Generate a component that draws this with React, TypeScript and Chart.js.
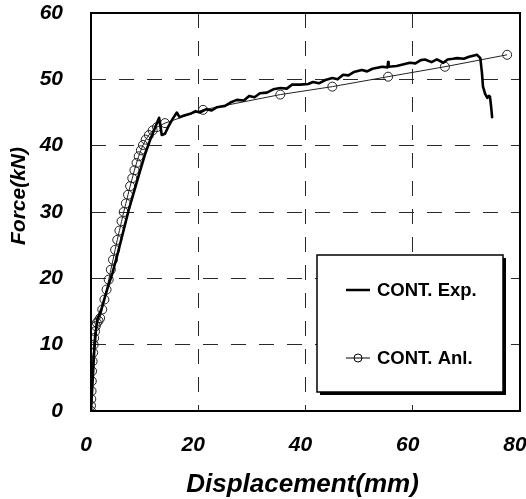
import React, { useEffect, useRef } from "react";
import { Chart, registerables } from "chart.js";

Chart.register(...registerables);

// ---- data ----
const expX = [0, 0.2, 0.4, 0.6, 0.9, 1.2, 2, 3, 4, 5, 6, 7, 8, 9, 10, 11, 12, 12.7, 13.2, 13.8, 14.5, 15.2, 16, 16.5, 17.5, 18.5, 19.5, 20.3, 21.5, 22.5, 23.5, 25, 26, 27.2, 28.5, 29.5, 30.5, 31.5, 32.8, 34, 35.3, 36.5, 37.5, 39, 40.5, 41.4, 42.5, 43.7, 45, 46, 47, 48, 49, 50.5, 51.5, 52.5, 54.3, 55.3, 55.4, 55.5, 57, 58.5, 59.5, 60.5, 61.5, 62.3, 63.5, 64.5, 65.7, 66.5, 67.5, 68.3, 69.5, 70.5, 72, 72.6, 72.9, 73.1, 73.5, 73.9, 74.2, 74.4, 74.6, 74.8];
const expY = [0, 3, 6, 9, 12, 13.8, 15.5, 18.3, 20.8, 23.8, 27, 30.2, 33, 35.8, 38.5, 40.8, 42.8, 44.2, 41.6, 41.8, 43, 44, 45, 44.3, 44.6, 44.8, 45.2, 45, 45.5, 45.3, 45.8, 46, 46.5, 46.9, 46.8, 47.5, 47.3, 47.9, 48, 48.5, 48.7, 48.6, 49.2, 49.2, 49.3, 49.6, 49.4, 49.9, 50.2, 50, 50.7, 50.6, 51.1, 51.4, 51.2, 51.6, 51.9, 51.8, 52.6, 51.9, 52, 52.3, 52.5, 52.4, 52.9, 53, 52.6, 53, 52.5, 53, 53.1, 53.2, 53.1, 53.4, 53.7, 53.2, 51, 48.9, 47.8, 47.2, 47.5, 47.4, 46, 44.3];

const anlX = [0, 0, 0.05, 0.1, 0.15, 0.2, 0.3, 0.4, 0.5, 0.6, 0.75, 0.9, 1.1, 1.4, 1.7, 2.1, 2.5, 2.9, 3.3, 3.7, 4.1, 4.5, 4.9, 5.3, 5.7, 6.1, 6.5, 6.9, 7.3, 7.7, 8.1, 8.5, 8.9, 9.3, 9.7, 10.2, 10.8, 11.5, 12.3, 13.8, 20.9, 35.3, 45, 55.4, 66, 77.6];
const anlY = [0, 0.8, 1.8, 3, 4.5, 6, 7.5, 8.8, 10, 11, 12, 12.8, 13.3, 13.6, 14, 15.3, 16.8, 18.3, 19.8, 21.3, 22.8, 24.3, 25.8, 27.2, 28.6, 30, 31.3, 32.6, 33.9, 35.1, 36.3, 37.4, 38.4, 39.3, 40.1, 40.9, 41.6, 42.3, 42.8, 43.4, 45.4, 47.7, 48.9, 50.4, 51.9, 53.7];

const seriesLabels = ["CONT. Exp.", "CONT. Anl."];
const xTickValues = [0, 20, 40, 60, 80];
const yTickValues = [0, 10, 20, 30, 40, 50, 60];
const xTitle = "Displacement(mm)";
const yTitle = "Force(kN)";

const FONT = "'Liberation Sans', Arial, Helvetica, sans-serif";

const framePlugin = {
  id: "frameAndLegend",
  afterDraw(chart: any) {
    const { ctx, chartArea } = chart;
    const { left, right, top, bottom } = chartArea;
    ctx.save();
    // plot frame
    ctx.strokeStyle = "#000";
    ctx.lineWidth = 2;
    ctx.strokeRect(left, top, right - left, bottom - top);

    // axis titles
    ctx.fillStyle = "#000";
    ctx.font = `italic bold 26px ${FONT}`;
    ctx.textAlign = "center";
    ctx.textBaseline = "alphabetic";
    ctx.fillText(xTitle, (left + right) / 2 - 3, 492);

    ctx.save();
    ctx.translate(25, 196);
    ctx.rotate(-Math.PI / 2);
    ctx.font = `italic bold 21px ${FONT}`;
    ctx.textAlign = "center";
    ctx.textBaseline = "alphabetic";
    ctx.fillText(yTitle, 0, 0);
    ctx.restore();

    // legend box
    const bx = 317, by = 255, bw = 186, bh = 137;
    ctx.fillStyle = "#000";
    ctx.fillRect(bx + 3, by + 3, bw, bh);
    ctx.fillStyle = "#fff";
    ctx.fillRect(bx, by, bw, bh);
    ctx.strokeStyle = "#000";
    ctx.lineWidth = 1.5;
    ctx.strokeRect(bx, by, bw, bh);

    const ds = chart.data.datasets;
    const rows = [290, 358];
    ctx.font = `bold 18.5px ${FONT}`;
    ctx.textAlign = "left";
    ctx.textBaseline = "middle";
    rows.forEach((ry, i) => {
      const d = ds[i];
      ctx.strokeStyle = "#000";
      ctx.lineWidth = i === 0 ? 2.5 : 1;
      ctx.beginPath();
      ctx.moveTo(346, ry);
      ctx.lineTo(370, ry);
      ctx.stroke();
      if (i === 1) {
        ctx.beginPath();
        ctx.arc(358, ry, 4, 0, Math.PI * 2);
        ctx.stroke();
      }
      ctx.fillStyle = "#000";
      ctx.fillText(d.label, 377, ry + 1);
    });
    ctx.restore();
  },
};

export default function App() {
  const ref = useRef<HTMLCanvasElement | null>(null);

  useEffect(() => {
    if (!ref.current) return;
    const tickFont = { family: FONT, size: 21, weight: "bold" as const, style: "italic" as const };
    const chart = new Chart(ref.current, {
      type: "scatter",
      data: {
        datasets: [
          {
            label: seriesLabels[0],
            data: expX.map((x, i) => ({ x, y: expY[i] })),
            showLine: true,
            borderColor: "#000",
            borderWidth: 2.6,
            borderJoinStyle: "round",
            borderCapStyle: "round",
            pointRadius: 0,
            tension: 0,
          },
          {
            label: seriesLabels[1],
            data: anlX.map((x, i) => ({ x, y: anlY[i] })),
            showLine: true,
            borderColor: "#222",
            borderWidth: 1,
            pointRadius: 4.5,
            pointBorderWidth: 1,
            pointBorderColor: "#222",
            pointBackgroundColor: "rgba(0,0,0,0)",
            tension: 0,
          },
        ],
      },
      options: {
        responsive: false,
        animation: false,
        devicePixelRatio: 1,
        layout: { padding: { left: 0, top: 13, right: 6, bottom: 0 } },
        plugins: { legend: { display: false }, tooltip: { enabled: false } },
        scales: {
          x: {
            type: "linear",
            min: 0,
            max: 80,
            afterBuildTicks: (s: any) => {
              s.ticks = xTickValues.map((v) => ({ value: v }));
            },
            afterFit: (s: any) => {
              s.height = 88;
              s.paddingLeft = 0;
              s.paddingRight = 0;
            },
            ticks: {
              font: tickFont,
              color: "#000",
              padding: 22,
              maxRotation: 0,
              autoSkip: false,
              labelOffset: -5,
            },
            grid: { color: "#2a2a2a", lineWidth: 1, drawTicks: false },
            border: { display: false, dash: [15, 13] },
          },
          y: {
            type: "linear",
            min: 0,
            max: 60,
            afterBuildTicks: (s: any) => {
              s.ticks = yTickValues.map((v) => ({ value: v }));
            },
            afterFit: (s: any) => {
              s.width = 91;
              s.paddingTop = 0;
              s.paddingBottom = 0;
            },
            ticks: {
              font: tickFont,
              color: "#000",
              padding: 28,
              autoSkip: false,
            },
            grid: { color: "#2a2a2a", lineWidth: 1, drawTicks: false },
            border: { display: false, dash: [15, 13] },
          },
        },
      },
      plugins: [framePlugin],
    });
    return () => chart.destroy();
  }, []);

  return (
    <div style={{ position: "absolute", left: 0, top: 0, width: 526, height: 499, background: "#fff" }}>
      <canvas ref={ref} width={526} height={499} style={{ display: "block" }} />
    </div>
  );
}
